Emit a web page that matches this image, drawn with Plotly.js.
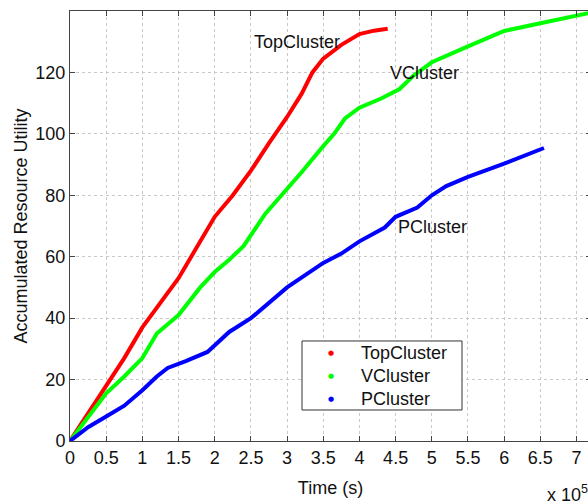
<!DOCTYPE html>
<html>
<head>
<meta charset="utf-8">
<script src="https://cdn.plot.ly/plotly-3.0.1.min.js"></script>
<style>
html,body{margin:0;padding:0;overflow:hidden;background:#fff;}
#chart{width:600px;height:504px;}
</style>
</head>
<body>
<div id="chart"></div>
<script>
// Time in units of 10^5 s
var topX = [0, 0.25, 0.5, 0.75, 1, 1.25, 1.5, 1.75, 2, 2.25, 2.5, 2.75, 3, 3.2, 3.35, 3.5, 3.75, 4, 4.2, 4.39];
var topY = [0, 9, 18, 27, 37, 45, 53, 63, 73, 80, 88, 97, 105.5, 113, 120, 124.5, 129, 132.5, 133.6, 134.2];

var vX = [0, 0.25, 0.5, 0.75, 1, 1.2, 1.5, 1.8, 2, 2.2, 2.4, 2.7, 3, 3.2, 3.5, 3.65, 3.8, 4, 4.3, 4.55, 4.75, 5, 5.5, 6, 6.5, 7, 7.2];
var vY = [0, 8, 15.5, 21, 27, 35, 41, 50, 55, 59, 63.5, 74, 82, 87.5, 96, 100, 105, 108.5, 111.5, 114.5, 119, 123.3, 128.5, 133.5, 136, 138.5, 139.5];

var pX = [0, 0.25, 0.5, 0.75, 1, 1.2, 1.35, 1.6, 1.9, 2.2, 2.5, 2.7, 3, 3.25, 3.5, 3.75, 4, 4.35, 4.5, 4.8, 5, 5.2, 5.5, 6, 6.3, 6.55];
var pY = [0, 4.5, 8, 11.5, 16.5, 21, 23.8, 26, 29, 35.5, 40, 44, 50, 54, 58, 61, 65, 69.5, 73, 76, 80, 83, 86, 90.3, 93, 95.4];

var seriesNames = ['TopCluster', 'VCluster', 'PCluster'];
var seriesColors = ['#ff0000', '#00ff00', '#0000ff'];
var xTicks = [0, 0.5, 1, 1.5, 2, 2.5, 3, 3.5, 4, 4.5, 5, 5.5, 6, 6.5, 7];
var xTickText = ['0', '0.5', '1', '1.5', '2', '2.5', '3', '3.5', '4', '4.5', '5', '5.5', '6', '6.5', '7'];
var yTicks = [0, 20, 40, 60, 80, 100, 120];

var xs = [topX, vX, pX];
var ys = [topY, vY, pY];
var labelX = [2.51, 4.39, 4.51];
var labelY = [129.8, 119.9, 69.6];

var font = 'Liberation Sans, Arial, Helvetica, sans-serif';
var traces = [];
for (var i = 0; i < 3; i++) {
  traces.push({x: xs[i], y: ys[i], mode: 'lines', name: seriesNames[i], line: {color: seriesColors[i], width: 4}, showlegend: false, hoverinfo: 'skip'});
}
var annotations = [];
for (var k = 0; k < 3; k++) {
  annotations.push({x: labelX[k], y: labelY[k], xref: 'x', yref: 'y', text: seriesNames[k], showarrow: false, xanchor: 'left', yanchor: 'middle', font: {family: font, size: 18, color: '#111'}});
}
annotations.push({x: 0.912, y: -0.121, xref: 'paper', yref: 'paper', text: 'x 10<sup>5</sup>', showarrow: false, xanchor: 'left', yanchor: 'middle', font: {family: font, size: 18, color: '#111'}});

// manual legend (box, dots, names)
var legRowY = [0.2047, 0.1512, 0.0977];
for (var m = 0; m < 3; m++) {
  annotations.push({x: 0.501, y: legRowY[m], xref: 'paper', yref: 'paper', text: '\u25CF', showarrow: false, xanchor: 'center', yanchor: 'middle', font: {family: 'DejaVu Sans', size: 7, color: seriesColors[m]}});
  annotations.push({x: 0.5547, y: legRowY[m], xref: 'paper', yref: 'paper', text: seriesNames[m], showarrow: false, xanchor: 'left', yanchor: 'middle', font: {family: font, size: 18, color: '#111'}});
}
var shapes = [{type: 'rect', xref: 'paper', yref: 'paper', x0: 0.4453, x1: 0.7524, y0: 0.0721, y1: 0.2326, line: {color: '#333', width: 1}, fillcolor: '#fff', layer: 'above'}];

var axisCommon = {
  showline: true, linecolor: '#444', linewidth: 1, mirror: 'ticks',
  ticks: 'inside', ticklen: 5, tickcolor: '#444', tickwidth: 1,
  showgrid: true, gridcolor: '#c8c8c8', griddash: 'dot', gridwidth: 1,
  zeroline: false, tickfont: {family: font, size: 18, color: '#111'}
};

var layout = {
  width: 600, height: 504,
  margin: {l: 70, r: 9, t: 11, b: 63},
  paper_bgcolor: '#fff', plot_bgcolor: '#fff',
  font: {family: font, size: 18, color: '#111'},
  xaxis: Object.assign({}, axisCommon, {range: [0, 7.2], tickvals: xTicks, ticktext: xTickText, title: {text: 'Time (s)', font: {family: font, size: 18, color: '#111'}, standoff: 14}}),
  yaxis: Object.assign({}, axisCommon, {range: [0, 140], tickvals: yTicks, title: {text: 'Accumulated Resource Utility', font: {family: font, size: 18, color: '#111'}, standoff: 3}}),
  annotations: annotations,
  shapes: shapes,
  showlegend: false
};
Plotly.newPlot('chart', traces, layout, {displayModeBar: false, staticPlot: true});
</script>
</body>
</html>
